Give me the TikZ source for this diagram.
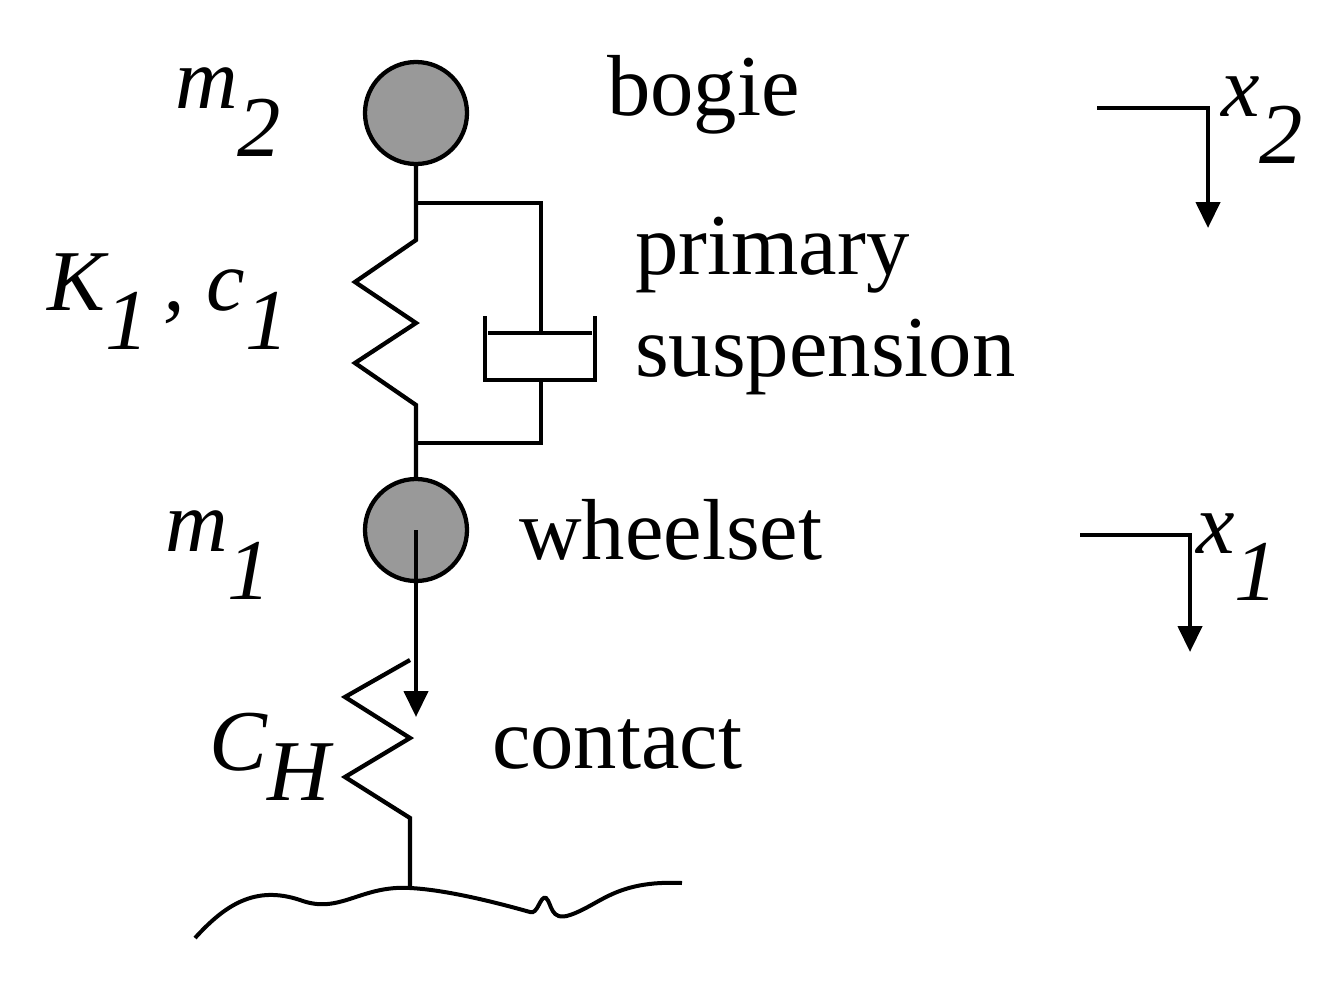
\documentclass[tikz,border=0pt]{standalone}
\usepackage{fontspec}
\setmainfont{Liberation Serif}
\usetikzlibrary{arrows.meta}
\begin{document}
\begin{tikzpicture}[x=0.75pt,y=-0.75pt,line width=3.2pt,
 mass/.style={circle,draw=black,fill=black!40,line width=3.2pt,minimum size=102*0.75pt,inner sep=0},
 lbl/.style={font=\fontsize{65}{67}\selectfont,inner sep=0},
 arr/.style={-{Triangle[length=26pt*0.75,width=24pt*0.75]}}]
\useasboundingbox (0,0) rectangle (1332,1004);
\node[mass] (m2) at (416,113) {};
\node[mass] (m1) at (416,530) {};
% primary suspension
\draw (m2.south) -- (416,240) -- (355,282) -- (416,323) -- (355,363) -- (416,405) -- (m1.north);
\draw (416,203) -- (541,203) -- (541,333);
\draw (488,333) -- (592,333);
\draw (485,316) -- (485,380) -- (595,380) -- (595,316);
\draw (541,380) -- (541,443) -- (416,443);
% contact spring
\coordinate (g) at (410,888);
\draw (410,660) -- (345,697) -- (410,738) -- (345,777) -- (410,818) -- (g);
\draw[arr] (m1.center) -- (416,717);
% ground
\draw[line width=3pt] (195,938) .. controls (225,905) and (255,885) .. (300,900)
  .. controls (340,915) and (360,885) .. (g)
  .. controls (450,890) and (505,905) .. (530,912)
  .. controls (538,915) and (540,895) .. (546,898)
  .. controls (552,903) and (550,922) .. (570,915)
  .. controls (600,905) and (615,880) .. (682,883);
% displacement arrows
\draw[arr] (1097,108) -- (1208,108) -- (1208,228);
\draw[arr] (1080,535) -- (1190,535) -- (1190,652);
% labels
\node[lbl,anchor=west] (tb) at (605,95) {bogie};
\node[lbl,anchor=west] (tp) at (633,255) {primary};
\node[lbl,anchor=west] (ts) at (633,357) {suspension};
\node[lbl,anchor=west] (tw) at (517,530) {wheelset};
\node[lbl,anchor=west] (tc) at (490,745) {contact};
\node[lbl] (lm2) at (228,112) {\itshape m\raisebox{-0.55em}{2}};
\node[lbl] (lm1) at (218,555) {\itshape m\raisebox{-0.55em}{1}};
\node[lbl] (lk) at (168,302) {\itshape K\raisebox{-0.45em}{1}\,, c\raisebox{-0.45em}{1}};
\node[lbl] (lc) at (270,757) {\itshape C\raisebox{-0.35em}{H}};
\node[lbl] (lx2) at (1262,120) {\itshape x\raisebox{-0.55em}{2}};
\node[lbl] (lx1) at (1237,557) {\itshape x\raisebox{-0.55em}{1}};
\end{tikzpicture}
\end{document}
